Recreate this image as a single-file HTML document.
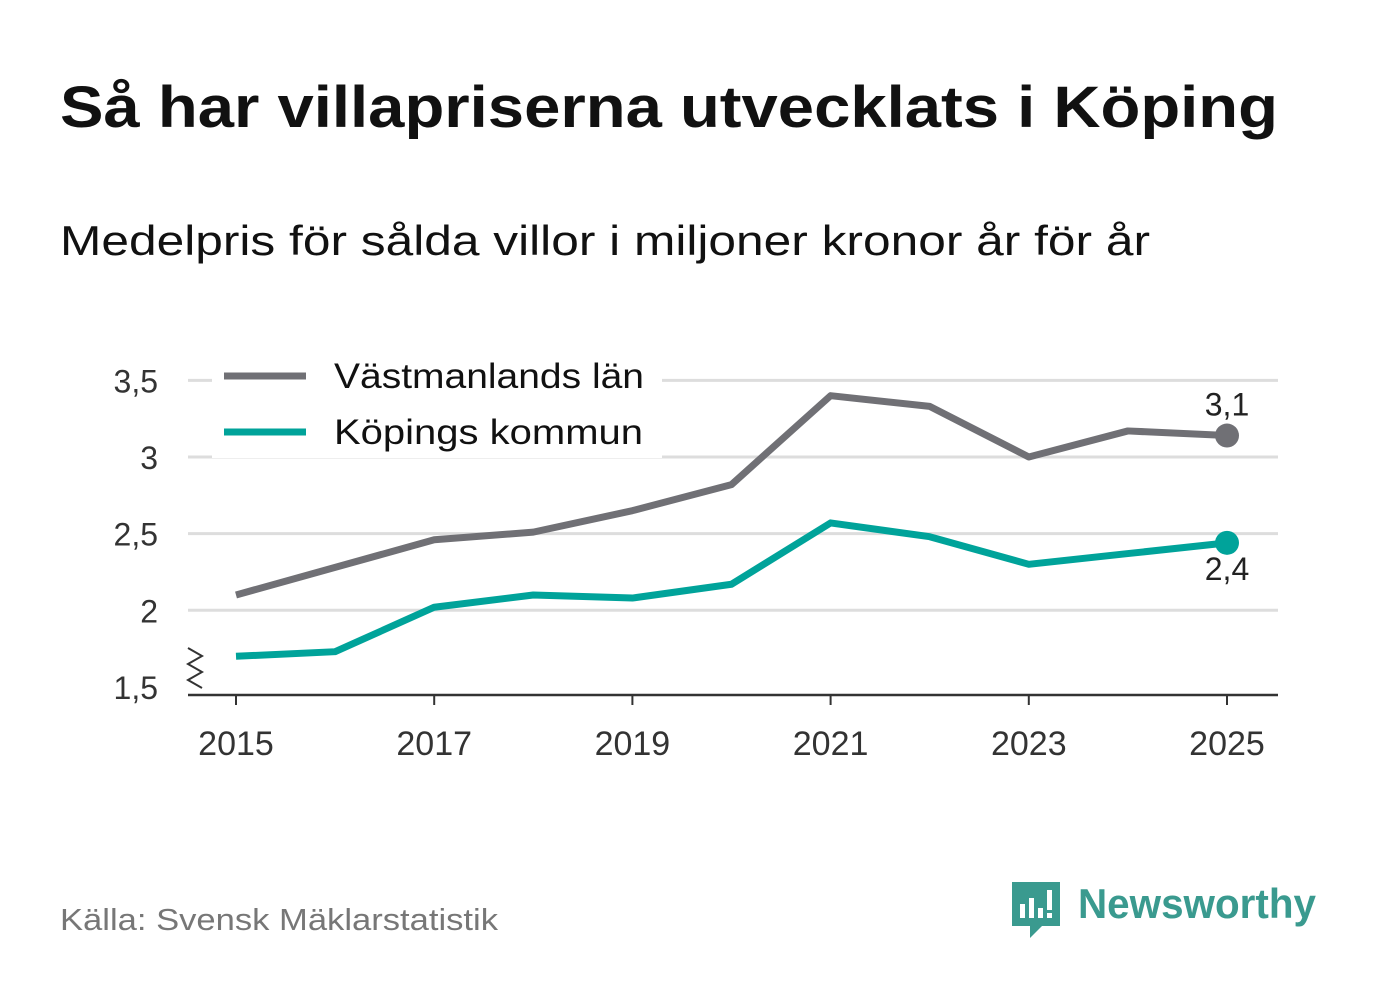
<!DOCTYPE html>
<html><head><meta charset="utf-8"><style>
body{margin:0;background:#fff;width:1382px;height:999px;overflow:hidden;font-family:"Liberation Sans",sans-serif}
</style></head><body>
<svg width="1382" height="999" xmlns="http://www.w3.org/2000/svg">
<text x="60" y="127" font-size="58" font-weight="bold" fill="#111" textLength="1218" lengthAdjust="spacingAndGlyphs">Så har villapriserna utvecklats i Köping</text>
<text x="60" y="255" font-size="42" fill="#111" textLength="1090" lengthAdjust="spacingAndGlyphs">Medelpris för sålda villor i miljoner kronor år för år</text>
<g id="grid"></g>
<g id="lines"></g>
<text x="60" y="930" font-size="31" fill="#777" textLength="438" lengthAdjust="spacingAndGlyphs">Källa: Svensk Mäklarstatistik</text>
<g>
<path d="M1012 882 h48 v44 h-18 l-12 12 v-12 h-18 z" fill="#3a9a8f"/>
<rect x="1020" y="904" width="5" height="14" fill="#fff"/><rect x="1029" y="898" width="5" height="20" fill="#fff"/><rect x="1038" y="908" width="5" height="10" fill="#fff"/><rect x="1047" y="890" width="5" height="20" fill="#fff"/><rect x="1047" y="913" width="5" height="5" fill="#fff"/>
<text x="1078" y="918" font-size="42" font-weight="bold" fill="#3a9a8f" textLength="238" lengthAdjust="spacingAndGlyphs">Newsworthy</text>
</g>
</svg>
<script>
const years=[2015,2016,2017,2018,2019,2020,2021,2022,2023,2024,2025];
const lan=[2.10,2.28,2.46,2.51,2.65,2.82,3.40,3.33,3.00,3.17,3.14];
const kop=[1.70,1.73,2.02,2.10,2.08,2.17,2.57,2.48,2.30,2.37,2.44];
const yTicks=[1.5,2,2.5,3,3.5];
const yTickLabels=["1,5","2","2,5","3","3,5"];
const xTicks=[2015,2017,2019,2021,2023,2025];
const NS="http://www.w3.org/2000/svg";
const x=v=>236+(v-2015)*99.1;
const y=v=>457-(v-3)*153.3;
function mk(t,a,p){const e=document.createElementNS(NS,t);for(const k in a)e.setAttribute(k,a[k]);p.appendChild(e);return e;}
const g=document.getElementById('grid'),L=document.getElementById('lines');
yTicks.forEach((t,i)=>{
 if(t>1.5){const l=mk('line',{x1:188,x2:1278,y1:y(t),y2:y(t),stroke:'#ddd','stroke-width':3},g);
 
 }
 const tx=mk('text',{x:158,y:y(t)+12,'font-size':32,'text-anchor':'end',fill:'#333'},g);tx.textContent=yTickLabels[i];
 
 
});
const ax=mk('line',{x1:188,x2:1278,y1:695,y2:695,stroke:'#333','stroke-width':2.5},g);


const zz=mk('path',{d:'M188 648 l14 8 l-14 8 l14 8 l-14 8 l14 8',fill:'none',stroke:'#333','stroke-width':2},g);


xTicks.forEach(t=>{
 mk('line',{x1:x(t),x2:x(t),y1:695,y2:705,stroke:'#333','stroke-width':2},g);
 const tx=mk('text',{x:x(t),y:755,'font-size':34,'text-anchor':'middle',fill:'#333'},g);tx.textContent=t;
 
 
});
mk('rect',{x:212,y:352,width:450,height:106,fill:'#fff'},g);
function series(vals,col,name){
 const p=mk('polyline',{points:vals.map((v,i)=>x(years[i])+','+y(v)).join(' '),fill:'none',stroke:col,'stroke-width':7,'stroke-linejoin':'round'},L);
 
 
 const n=vals.length-1;
 const c=mk('circle',{cx:x(years[n]),cy:y(vals[n]),r:12,fill:col},L);
 
 
}
series(lan,'#707075','vastmanland');
series(kop,'#00a39a','koping');
const l1=mk('text',{x:x(2025),y:y(lan[10])-20,'font-size':32,'text-anchor':'middle',fill:'#222'},L);l1.textContent=lan[10].toFixed(1).replace('.',',');


const l2=mk('text',{x:x(2025),y:y(kop[10])+37,'font-size':32,'text-anchor':'middle',fill:'#222'},L);l2.textContent=kop[10].toFixed(1).replace('.',',');


[['Västmanlands län','#707075',376,310],['Köpings kommun','#00a39a',432,309]].forEach(([t,c,yy,w])=>{
 const gg=mk('g',{},L);
 
 
 mk('line',{x1:224,x2:306,y1:yy,y2:yy,stroke:c,'stroke-width':7},gg);
 const tx=mk('text',{x:334,y:yy+12,'font-size':35,fill:'#111',textLength:w,lengthAdjust:'spacingAndGlyphs'},gg);tx.textContent=t;
});
</script>
</body></html>
